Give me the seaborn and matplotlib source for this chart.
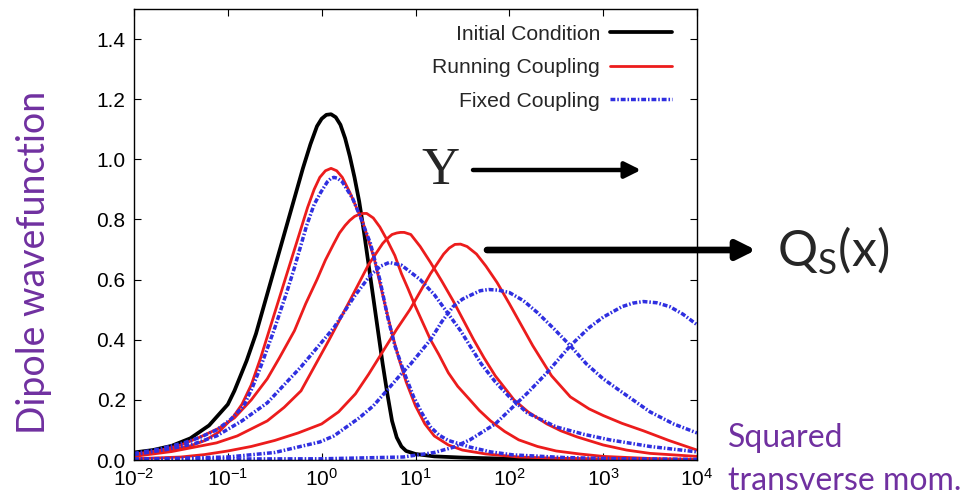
import numpy as np
import pandas as pd
import matplotlib
matplotlib.use("Agg")
import matplotlib.pyplot as plt
import seaborn as sns

# ---- data (x stored as log10 of squared transverse momentum) ----
black_u = [-2.0, -1.8, -1.6, -1.4, -1.2, -1.0, -0.93, -0.8, -0.7, -0.6, -0.5, -0.4, -0.3, -0.2, -0.12, -0.05, 0.0, 0.05, 0.1, 0.15, 0.2, 0.25, 0.3, 0.35, 0.4, 0.45, 0.5, 0.55, 0.6, 0.65, 0.7, 0.75, 0.8, 0.85, 0.9, 1.0, 1.2, 1.5, 2.0, 3.0, 4.0]
black_y = [0.025, 0.033, 0.047, 0.072, 0.115, 0.185, 0.23, 0.33, 0.42, 0.53, 0.64, 0.75, 0.86, 0.97, 1.05, 1.11, 1.135, 1.148, 1.15, 1.14, 1.115, 1.07, 1.01, 0.94, 0.86, 0.76, 0.65, 0.54, 0.43, 0.32, 0.22, 0.13, 0.075, 0.045, 0.03, 0.02, 0.012, 0.008, 0.004, 0.001, 0.0]

red1_u = [-2.0, -1.8, -1.6, -1.4, -1.25, -1.1, -0.95, -0.85, -0.75, -0.65, -0.55, -0.45, -0.35, -0.25, -0.15, -0.08, -0.02, 0.04, 0.1, 0.16, 0.22, 0.3, 0.37, 0.44, 0.5, 0.56, 0.62, 0.68, 0.75, 0.82, 0.9, 1.0, 1.1, 1.2, 1.35, 1.5, 1.75, 2.1, 2.6, 3.2, 4.0]
red1_y = [0.02, 0.026, 0.034, 0.047, 0.064, 0.092, 0.14, 0.185, 0.25, 0.34, 0.44, 0.54, 0.64, 0.74, 0.84, 0.9, 0.94, 0.962, 0.97, 0.962, 0.94, 0.89, 0.84, 0.79, 0.73, 0.67, 0.59, 0.51, 0.42, 0.34, 0.26, 0.18, 0.12, 0.08, 0.05, 0.033, 0.02, 0.01, 0.005, 0.002, 0.0]

red2_u = [-2.0, -1.71, -1.5, -1.29, -1.1, -0.93, -0.75, -0.58, -0.45, -0.29, -0.17, -0.05, 0.04, 0.13, 0.19, 0.25, 0.3, 0.35, 0.4, 0.44, 0.48, 0.55, 0.62, 0.7, 0.78, 0.85, 0.92, 1.0, 1.08, 1.16, 1.25, 1.35, 1.45, 1.58, 1.68, 1.8, 1.95, 2.1, 2.3, 2.5, 2.75, 3.0, 3.5, 4.0]
red2_y = [0.018, 0.033, 0.05, 0.077, 0.105, 0.14, 0.2, 0.27, 0.34, 0.43, 0.52, 0.6, 0.665, 0.72, 0.755, 0.78, 0.797, 0.81, 0.817, 0.82, 0.82, 0.805, 0.775, 0.73, 0.68, 0.62, 0.57, 0.51, 0.455, 0.4, 0.35, 0.29, 0.245, 0.2, 0.165, 0.13, 0.095, 0.067, 0.045, 0.03, 0.02, 0.012, 0.005, 0.002]

red3_u = [-2.0, -1.6, -1.12, -0.9, -0.58, -0.4, -0.22, 0.08, 0.3, 0.5, 0.65, 0.7, 0.75, 0.8, 0.84, 0.88, 0.95, 1.05, 1.16, 1.28, 1.4, 1.51, 1.62, 1.73, 1.85, 2.05, 2.2, 2.4, 2.55, 2.72, 3.0, 3.25, 3.5, 4.0]
red3_y = [0.012, 0.028, 0.057, 0.08, 0.13, 0.175, 0.23, 0.40, 0.53, 0.65, 0.72, 0.737, 0.75, 0.755, 0.757, 0.757, 0.75, 0.71, 0.657, 0.595, 0.53, 0.465, 0.40, 0.34, 0.28, 0.20, 0.16, 0.12, 0.097, 0.077, 0.05, 0.033, 0.022, 0.012]

red4_u = [-2.0, -1.5, -1.25, -1.0, -0.75, -0.5, -0.25, 0.0, 0.18, 0.36, 0.5, 0.66, 0.8, 0.94, 1.05, 1.16, 1.3, 1.36, 1.42, 1.48, 1.55, 1.65, 1.75, 1.87, 2.0, 2.25, 2.45, 2.65, 2.85, 3.0, 3.2, 3.43, 3.7, 4.0]
red4_y = [0.004, 0.01, 0.018, 0.03, 0.045, 0.065, 0.09, 0.12, 0.16, 0.22, 0.285, 0.365, 0.435, 0.50, 0.56, 0.62, 0.685, 0.705, 0.717, 0.718, 0.71, 0.685, 0.645, 0.59, 0.52, 0.38, 0.28, 0.21, 0.17, 0.148, 0.122, 0.097, 0.065, 0.033]

blue1_u = [-2.0, -1.75, -1.47, -1.3, -1.12, -0.97, -0.83, -0.74, -0.65, -0.51, -0.37, -0.29, -0.16, -0.08, -0.01, 0.06, 0.1, 0.13, 0.17, 0.22, 0.33, 0.41, 0.52, 0.62, 0.70, 0.78, 0.88, 0.98, 1.07, 1.16, 1.25, 1.35, 1.58, 1.8, 2.04, 2.6, 3.2, 4.0]
blue1_y = [0.022, 0.035, 0.057, 0.075, 0.10, 0.135, 0.18, 0.24, 0.31, 0.43, 0.56, 0.64, 0.78, 0.85, 0.89, 0.925, 0.937, 0.94, 0.937, 0.925, 0.87, 0.81, 0.72, 0.60, 0.48, 0.38, 0.29, 0.21, 0.155, 0.11, 0.083, 0.065, 0.043, 0.027, 0.017, 0.008, 0.004, 0.002]

blue2_u = [-2.0, -1.65, -1.35, -1.12, -0.85, -0.58, -0.4, -0.22, 0.13, 0.35, 0.52, 0.63, 0.72, 0.85, 1.05, 1.2, 1.34, 1.48, 1.7, 1.85, 2.0, 2.19, 2.5, 2.8, 3.07, 3.5, 4.0]
blue2_y = [0.018, 0.035, 0.055, 0.08, 0.13, 0.19, 0.25, 0.31, 0.44, 0.545, 0.615, 0.645, 0.657, 0.648, 0.60, 0.55, 0.49, 0.43, 0.32, 0.26, 0.21, 0.157, 0.11, 0.085, 0.067, 0.045, 0.027]

blue3_u = [-2.0, -1.5, -1.0, -0.5, -0.02, 0.13, 0.4, 0.55, 0.7, 0.83, 0.95, 1.16, 1.28, 1.4, 1.5, 1.6, 1.69, 1.78, 1.88, 2.0, 2.15, 2.3, 2.48, 2.65, 2.82, 3.0, 3.18, 3.5, 3.75, 4.0]
blue3_y = [0.003, 0.006, 0.01, 0.025, 0.06, 0.08, 0.14, 0.18, 0.233, 0.28, 0.32, 0.40, 0.46, 0.51, 0.535, 0.55, 0.563, 0.567, 0.565, 0.557, 0.53, 0.49, 0.435, 0.38, 0.32, 0.27, 0.23, 0.16, 0.12, 0.09]

blue4_u = [-2.0, 0.0, 0.87, 1.2, 1.4, 1.58, 1.85, 2.0, 2.2, 2.4, 2.65, 2.85, 3.0, 3.2, 3.32, 3.43, 3.57, 3.71, 3.85, 4.0]
blue4_y = [0.003, 0.004, 0.01, 0.025, 0.042, 0.067, 0.12, 0.165, 0.225, 0.29, 0.38, 0.44, 0.475, 0.51, 0.522, 0.527, 0.523, 0.51, 0.485, 0.45]

ytick_vals = [0.0, 0.2, 0.4, 0.6, 0.8, 1.0, 1.2, 1.4]
ytick_labels = ["0.0", "0.2", "0.4", "0.6", "0.8", "1.0", "1.2", "1.4"]
legend_labels = ["Initial Condition", "Running Coupling", "Fixed Coupling"]

curves = [
    ("init", "Initial Condition", black_u, black_y),
    ("rc1", "Running Coupling", red1_u, red1_y),
    ("rc2", "Running Coupling", red2_u, red2_y),
    ("rc3", "Running Coupling", red3_u, red3_y),
    ("rc4", "Running Coupling", red4_u, red4_y),
    ("fc1", "Fixed Coupling", blue1_u, blue1_y),
    ("fc2", "Fixed Coupling", blue2_u, blue2_y),
    ("fc3", "Fixed Coupling", blue3_u, blue3_y),
    ("fc4", "Fixed Coupling", blue4_u, blue4_y),
]
frames = []
for name, fam, u, y in curves:
    frames.append(pd.DataFrame({"k": np.power(10.0, np.array(u)), "phi": y, "curve": name, "family": fam}))
df = pd.concat(frames, ignore_index=True)

# ---- styling ----
sns.set_theme(style="ticks")
plt.rcParams["font.family"] = ["Liberation Sans", "DejaVu Sans"]

styles = {
    "Initial Condition": dict(color="black", lw=2.7, ls="-"),
    "Running Coupling": dict(color="#ec1c1c", lw=2.0, ls="-"),
    "Fixed Coupling": dict(color="#2f2fe0", lw=2.5, ls=(0, (1.4, 0.55, 0.45, 0.55))),
}

fig = plt.figure(figsize=(9.8, 5.04), dpi=100)
W, H = 980, 504
ax = fig.add_axes([134 / W, 44 / H, (697 - 134) / W, (460 - 9) / H])

handles = {}
for fam in legend_labels:
    for name in df.loc[df["family"] == fam, "curve"].unique():
        sub = df[df["curve"] == name]
        st = styles[fam]
        sns.lineplot(data=sub, x="k", y="phi", ax=ax, color=st["color"], linewidth=st["lw"],
                     linestyle=st["ls"], estimator=None, sort=False, legend=False)
        ax.lines[-1].set_solid_joinstyle("round")
        handles[fam] = ax.lines[-1]

ax.set_xscale("log")
ax.set_xlim(1e-2, 1e4)
ax.set_ylim(0, 1.5)
ax.set_xticks([1e-2, 1e-1, 1e0, 1e1, 1e2, 1e3, 1e4])
ax.xaxis.set_minor_locator(matplotlib.ticker.NullLocator())
ax.set_yticks(ytick_vals)
ax.set_yticklabels(ytick_labels)
ax.set_xlabel("")
ax.set_ylabel("")
ax.tick_params(axis="both", which="both", direction="in", top=True, right=True,
               length=5, width=0.8, labelsize=15, colors="black", pad=6)
for sp in ax.spines.values():
    sp.set_color("black")
    sp.set_linewidth(1.0)

leg = ax.legend([handles[f] for f in legend_labels], legend_labels, loc="upper right",
                bbox_to_anchor=(0.970, 0.984), frameon=False, markerfirst=False, fontsize=15.2,
                handlelength=2.9, labelspacing=0.69, handletextpad=0.5, borderaxespad=0.0)

purple = "#7030a0"
fig.text(34 / W, 1 - 262 / H, "Dipole wavefunction", rotation=90, ha="center", va="center",
         color=purple, fontsize=27, family="Lato")
fig.text(728 / W, 1 - 438 / H, "Squared", ha="left", va="center", color=purple, fontsize=23, family="Lato")
fig.text(728 / W, 1 - 481 / H, "transverse mom.", ha="left", va="center", color=purple, fontsize=23, family="Lato")

fig.text(440 / W, 1 - 171 / H, "Y", ha="center", va="center", fontsize=38, family="Liberation Serif")
ax.annotate("", xy=(641, H - 170), xytext=(473, H - 170), xycoords="figure pixels",
            textcoords="figure pixels",
            arrowprops=dict(arrowstyle="-|>", lw=3.2, color="black", mutation_scale=24, shrinkA=0, shrinkB=0))
ax.annotate("", xy=(756, H - 250), xytext=(487, H - 250), xycoords="figure pixels",
            textcoords="figure pixels",
            arrowprops=dict(arrowstyle="-|>", lw=4.8, color="black", mutation_scale=28, shrinkA=0, shrinkB=0))
fig.text(777 / W, 1 - 251 / H, r"Q$_\mathdefault{S}$(x)", ha="left", va="center", fontsize=36, family="Lato")

fig.savefig("out.png", dpi=100)
